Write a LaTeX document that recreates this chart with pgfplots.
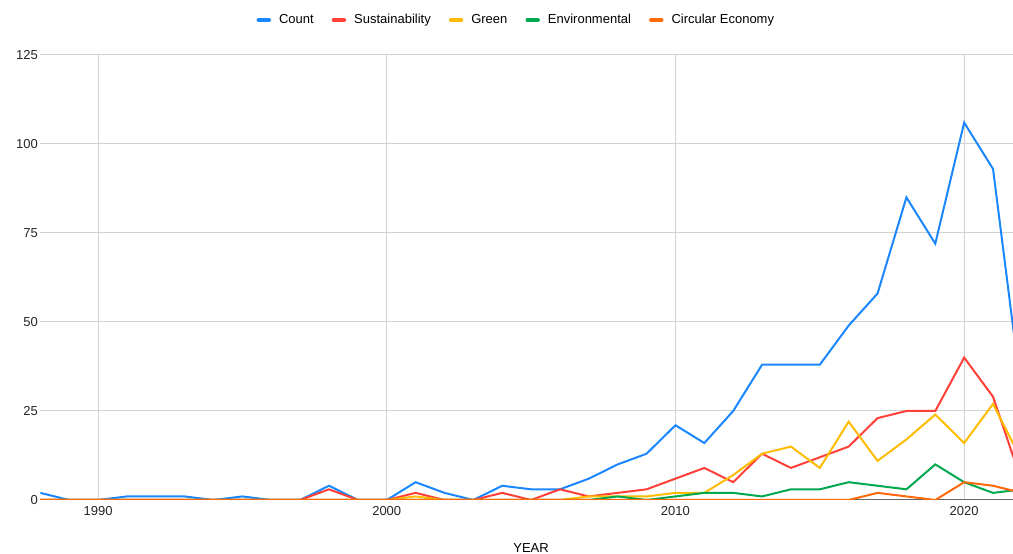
\documentclass[border=0pt]{standalone}
\usepackage{pgfplots}
\pgfplotsset{compat=1.18}
\usepackage{fontspec}
\setmainfont{Liberation Sans}
\definecolor{cCount}{RGB}{26,135,255}
\definecolor{cSus}{RGB}{255,64,56}
\definecolor{cGreen}{RGB}{255,188,0}
\definecolor{cEnv}{RGB}{0,168,80}
\definecolor{cCirc}{RGB}{255,105,10}
\definecolor{gridc}{RGB}{210,210,210}
\begin{document}
\begin{tikzpicture}[x=1pt,y=1pt]
\clip (0,0) rectangle (1013,554);
\fill[white] (0,0) rectangle (1013,554);
\begin{axis}[
  at={(40.3pt,54pt)}, anchor=south west,
  scale only axis, width=981.6pt, height=445pt,
  xmin=1988, xmax=2022, ymin=0, ymax=125,
  xtick={1990,2000,2010,2020},
  ytick={0,25,50,75,100,125},
  xticklabel style={/pgf/number format/1000 sep={}},
  /pgf/number format/assume math mode=true,
  tick label style={font=\fontsize{13}{15}\selectfont, text=black!85},
  yticklabel style={xshift=1pt},
  xticklabel style={yshift=-3pt},
  major tick length=0pt,
  grid=major, major grid style={gridc, line width=1pt},
  axis x line*=bottom, axis y line*=left,
  x axis line style={black!60, line width=1pt, -},
  y axis line style={draw=none},
  clip=true,
  legend style={at={(476pt,480pt)}, anchor=center, draw=none, fill=none,
    legend columns=-1, font=\fontsize{13}{15}\selectfont,
    /tikz/every odd column/.append style={column sep=6pt},
    /tikz/every even column/.append style={column sep=16pt}},
  legend image code/.code={\draw[line width=4.5pt, line cap=round] (0pt,0pt) -- (10pt,0pt);},
  every axis plot/.append style={line width=2pt, line join=miter, mark=none},
  xlabel={YEAR}, xlabel style={font=\fontsize{13}{15}\selectfont, yshift=-21pt},
]
\addplot[cCount] coordinates {(1988,2)(1989,0)(1990,0)(1991,1)(1992,1)(1993,1)(1994,0)(1995,1)(1996,0)(1997,0)(1998,4)(1999,0)(2000,0)(2001,5)(2002,2)(2003,0)(2004,4)(2005,3)(2006,3)(2007,6)(2008,10)(2009,13)(2010,21)(2011,16)(2012,25)(2013,38)(2014,38)(2015,38)(2016,49)(2017,58)(2018,85)(2019,72)(2020,106)(2021,93)(2022,29)};
\addlegendentry{Count}
\addplot[cSus] coordinates {(1988,0)(1997,0)(1998,3)(1999,0)(2000,0)(2001,2)(2002,0)(2003,0)(2004,2)(2005,0)(2006,3)(2007,1)(2008,2)(2009,3)(2010,6)(2011,9)(2012,5)(2013,13)(2014,9)(2015,12)(2016,15)(2017,23)(2018,25)(2019,25)(2020,40)(2021,29)(2022,5)};
\addlegendentry{Sustainability}
\addplot[cGreen] coordinates {(1988,0)(2000,0)(2001,1)(2002,0)(2006,0)(2007,1)(2008,1)(2009,1)(2010,2)(2011,2)(2012,7)(2013,13)(2014,15)(2015,9)(2016,22)(2017,11)(2018,17)(2019,24)(2020,16)(2021,27)(2022,11)};
\addlegendentry{Green}
\addplot[cEnv] coordinates {(1988,0)(2007,0)(2008,1)(2009,0)(2010,1)(2011,2)(2012,2)(2013,1)(2014,3)(2015,3)(2016,5)(2017,4)(2018,3)(2019,10)(2020,5)(2021,2)(2022,3)};
\addlegendentry{Environmental}
\addplot[cCirc] coordinates {(1988,0)(2016,0)(2017,2)(2018,1)(2019,0)(2020,5)(2021,4)(2022,2)};
\addlegendentry{Circular Economy}
\end{axis}
\end{tikzpicture}
\end{document}
